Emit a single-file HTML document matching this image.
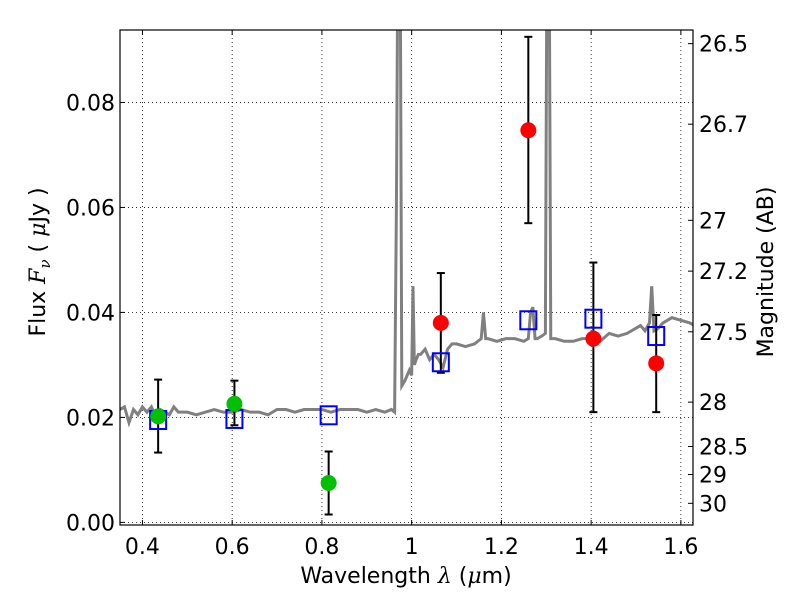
<!DOCTYPE html>
<html><head><meta charset="utf-8"><style>body{margin:0;background:#fff}svg{font-family:"DejaVu Sans","Liberation Sans",sans-serif}</style></head>
<body>
<svg id="c" width="800" height="600"></svg>
<script>
const xTicks=[0.4,0.6,0.8,1.0,1.2,1.4,1.6];
const xTickLabels=["0.4","0.6","0.8","1","1.2","1.4","1.6"];
const yTicks=[0,0.02,0.04,0.06,0.08];
const yTickLabels=["0.00","0.02","0.04","0.06","0.08"];
const magTicks=[26.5,26.7,27,27.2,27.5,28,28.5,29,30];
const redX=[1.065,1.26,1.405,1.545];
const redY=[0.038,0.0747,0.035,0.0303];
const redLo=[0.0285,0.057,0.021,0.021];
const redHi=[0.0475,0.0925,0.0495,0.0395];
const greenX=[0.435,0.605,0.815];
const greenY=[0.0202,0.0226,0.0075];
const greenLo=[0.0133,0.0185,0.0015];
const greenHi=[0.0272,0.027,0.0135];
const modelX=[0.435,0.605,0.815,1.065,1.26,1.405,1.545];
const modelY=[0.0195,0.0197,0.0204,0.0305,0.0385,0.0388,0.0355];
const specX=[0.35,0.36,0.37,0.38,0.39,0.40,0.41,0.42,0.43,0.44,0.45,0.46,0.47,0.48,0.50,0.52,0.54,0.56,0.58,0.60,0.62,0.64,0.66,0.68,0.70,0.72,0.74,0.76,0.78,0.80,0.82,0.84,0.86,0.88,0.90,0.92,0.94,0.955,0.962,0.966,0.970,0.974,0.978,0.985,0.99,0.995,1.0,1.003,1.006,1.01,1.015,1.02,1.03,1.04,1.05,1.06,1.07,1.08,1.09,1.10,1.12,1.14,1.155,1.16,1.165,1.17,1.19,1.21,1.23,1.25,1.26,1.265,1.27,1.275,1.28,1.29,1.298,1.302,1.306,1.31,1.32,1.34,1.36,1.38,1.40,1.42,1.44,1.46,1.48,1.50,1.51,1.52,1.53,1.535,1.54,1.55,1.56,1.58,1.60,1.62,1.63];
const specY=[0.0215,0.022,0.019,0.0215,0.0205,0.022,0.021,0.022,0.02,0.0215,0.021,0.0205,0.022,0.021,0.021,0.0205,0.021,0.0215,0.021,0.021,0.0215,0.021,0.021,0.0205,0.0215,0.0215,0.021,0.0215,0.0215,0.0215,0.021,0.0215,0.0215,0.0215,0.021,0.0215,0.021,0.0215,0.021,0.06,0.12,0.12,0.026,0.027,0.028,0.029,0.028,0.045,0.03,0.031,0.032,0.032,0.033,0.031,0.032,0.031,0.0295,0.033,0.034,0.034,0.0335,0.034,0.035,0.04,0.035,0.035,0.0345,0.035,0.035,0.0345,0.035,0.04,0.041,0.035,0.035,0.0355,0.036,0.12,0.12,0.035,0.035,0.0345,0.0345,0.035,0.035,0.0345,0.036,0.0355,0.036,0.037,0.0375,0.0365,0.038,0.045,0.0365,0.037,0.038,0.039,0.0385,0.038,0.0375];
const L=120,R=693,T=30,B=525,xmin=0.35,xmax=1.627,ymin=-0.0005,ymax=0.0938;
const sx=v=>L+(v-xmin)/(xmax-xmin)*(R-L);
const sy=v=>B-(v-ymin)/(ymax-ymin)*(B-T);
const NS="http://www.w3.org/2000/svg";
const svg=document.getElementById('c');
function mk(t,a,p){const e=document.createElementNS(NS,t);for(const k in a)e.setAttribute(k,a[k]);(p||svg).appendChild(e);return e;}
const defs=mk('defs',{});const cp=mk('clipPath',{id:'clip'},defs);mk('rect',{x:L,y:T,width:R-L,height:B-T},cp);
const grid=mk('g',{stroke:'#000','stroke-width':0.8,'stroke-dasharray':'1,3'});


xTicks.forEach((v,i)=>{mk('line',{x1:sx(v),x2:sx(v),y1:T,y2:B},grid);
 mk('line',{x1:sx(v),x2:sx(v),y1:B,y2:B-5,stroke:'#000'},svg);
 mk('line',{x1:sx(v),x2:sx(v),y1:T,y2:T+5,stroke:'#000'},svg);
 const t=mk('text',{x:sx(v),y:B+29,'font-size':22,'text-anchor':'middle'});t.textContent=xTickLabels[i];
 
 });
yTicks.forEach((v,i)=>{mk('line',{x1:L,x2:R,y1:sy(v),y2:sy(v)},grid);
 mk('line',{x1:L,x2:L+5,y1:sy(v),y2:sy(v),stroke:'#000'},svg);
 const t=mk('text',{x:L-5,y:sy(v)+8,'font-size':22,'text-anchor':'end'});t.textContent=yTickLabels[i];
 
 });
magTicks.forEach(m=>{const f=Math.pow(10,(23.9-m)/2.5);const y=sy(f);
 mk('line',{x1:R,x2:R-5,y1:y,y2:y,stroke:'#000'},svg);
 const t=mk('text',{x:R+6,y:y+8,'font-size':22});t.textContent=String(m);
 
 });
const g=mk('g',{'clip-path':'url(#clip)'});
const sp=mk('polyline',{points:specX.map((x,i)=>sx(x)+','+sy(specY[i])).join(' '),fill:'none',stroke:'#808080','stroke-width':3},g);


function eb(x,lo,hi){mk('line',{x1:sx(x),x2:sx(x),y1:sy(lo),y2:sy(hi),stroke:'#000','stroke-width':2},g);
 [lo,hi].forEach(v=>mk('line',{x1:sx(x)-4,x2:sx(x)+4,y1:sy(v),y2:sy(v),stroke:'#000','stroke-width':2},g));}
greenX.forEach((x,i)=>eb(x,greenLo[i],greenHi[i]));
redX.forEach((x,i)=>eb(x,redLo[i],redHi[i]));
modelX.forEach((x,i)=>{const r=mk('rect',{x:sx(x)-8,y:sy(modelY[i])-9,width:16,height:18,fill:'none',stroke:'#0000ff','stroke-width':2},g);
 
 });
greenX.forEach((x,i)=>{const c=mk('circle',{cx:sx(x),cy:sy(greenY[i]),r:8,fill:'#00c000'},g);
 
 });
redX.forEach((x,i)=>{const c=mk('circle',{cx:sx(x),cy:sy(redY[i]),r:8,fill:'#ff0000'},g);
 
 });
const fr=mk('rect',{x:L,y:T,width:R-L,height:B-T,fill:'none',stroke:'#000','stroke-width':1.2});


const xl=mk('text',{x:406,y:583,'font-size':22,'text-anchor':'middle'});
xl.innerHTML='Wavelength  <tspan font-family="DejaVu Serif" font-style="italic">λ</tspan> (<tspan font-family="DejaVu Serif" font-style="italic">μ</tspan>m)';


const yl=mk('text',{x:0,y:0,'font-size':22,'text-anchor':'middle',transform:'translate(45,262) rotate(-90)'});
yl.innerHTML='Flux  <tspan font-family="DejaVu Serif" font-style="italic">F</tspan><tspan font-family="DejaVu Serif" font-style="italic" font-size="15" dy="5">ν</tspan><tspan dy="-5">  (  </tspan><tspan font-family="DejaVu Serif" font-style="italic">μ</tspan>Jy )';


const rl=mk('text',{x:0,y:0,'font-size':22,'text-anchor':'middle',transform:'translate(773,272) rotate(-90)'});
rl.textContent='Magnitude (AB)';


</script>
</body></html>
